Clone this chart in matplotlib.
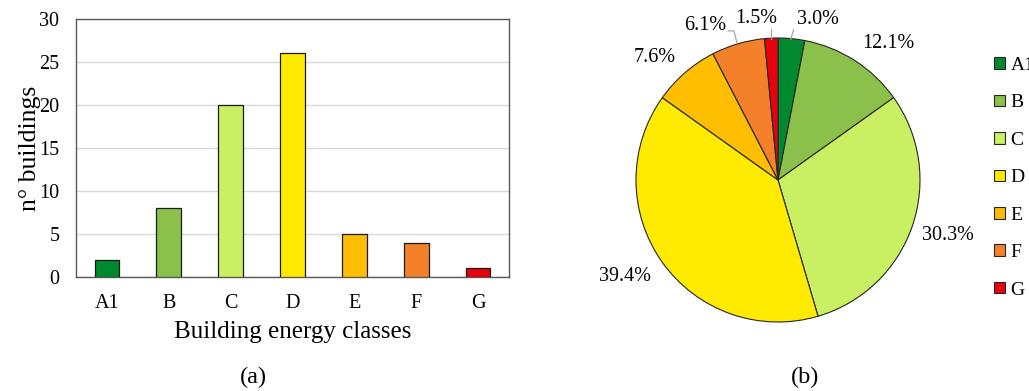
import matplotlib
matplotlib.use("Agg")
import matplotlib.pyplot as plt
from matplotlib.patches import Patch
import numpy as np

plt.rcParams['font.family'] = ['Liberation Serif', 'DejaVu Serif']

# Energy class distribution of the building stock
classes = ["A1", "B", "C", "D", "E", "F", "G"]
n_buildings = [2, 8, 20, 26, 5, 4, 1]
class_colors = ["#00892f", "#8bc04b", "#c9ef62", "#ffea00", "#ffbe00", "#f4812a", "#e8000c"]
y_ticks = [0, 5, 10, 15, 20, 25, 30]

W, H = 1029, 391
fig = plt.figure(figsize=(W / 100, H / 100), dpi=100)

# ---- (a) bar chart ----
ax = fig.add_axes([76 / W, 1 - 277 / H, (509 - 76) / W, (277 - 19) / H])
x = np.arange(len(classes))
ax.bar(x, n_buildings, width=0.4, color=class_colors, edgecolor="#1a1a1a",
       linewidth=0.9, zorder=3)
ax.set_xlim(-0.5, len(classes) - 0.5)
ax.set_ylim(0, 30)
ax.set_yticks(y_ticks)
ax.set_xticks(x)
ax.set_xticklabels(classes)
ax.tick_params(axis="both", length=0, labelsize=14.5, pad=12)
ax.yaxis.grid(True, color="#d9d9d9", linewidth=1, zorder=0)
for s in ax.spines.values():
    s.set_color("#595959")
    s.set_linewidth(1.0)
ax.set_xlabel("Building energy classes", fontsize=18, labelpad=6)
ax.set_ylabel("n° buildings", fontsize=18.5, labelpad=-1)
fig.text(253 / W, 1 - 377 / H, "(a)", fontsize=17.5, ha="center", va="center")

# ---- (b) pie chart ----
R = 142
cx, cy = 778, 180
pax = fig.add_axes([(cx - R) / W, 1 - (cy + R) / H, 2 * R / W, 2 * R / H])
wedges, _ = pax.pie(n_buildings, colors=class_colors, startangle=90,
                    counterclock=False, radius=1.0,
                    wedgeprops=dict(edgecolor="#262626", linewidth=0.8))
pax.set_xlim(-1, 1)
pax.set_ylim(-1, 1)
pax.axis("off")

total = sum(n_buildings)
pct_labels = [f"{100 * v / total:.1f}%" for v in n_buildings]

# label anchors in pie units (radius = 1)
label_pos = [(0.28, 1.13), (0.78, 0.96), (1.20, -0.39), (-1.08, -0.68),
             (-0.87, 0.86), (-0.51, 1.09), (-0.15, 1.14)]
for txt, (lx, ly) in zip(pct_labels, label_pos):
    pax.text(lx, ly, txt, fontsize=14.5, ha="center", va="center", clip_on=False)

# leader lines for the narrow slices
leaders = [
    [(0.09, 0.99), (0.11, 1.06)],
    [(-0.05, 0.99), (-0.05, 1.06)],
    [(-0.29, 0.97), (-0.31, 1.05), (-0.35, 1.05)],
]
for pts in leaders:
    px, py = zip(*pts)
    pax.plot(px, py, color="#a6a6a6", linewidth=0.9, clip_on=False)

handles = [Patch(facecolor=c, edgecolor="#262626", linewidth=0.8) for c in class_colors]
fig.legend(handles, classes, loc="upper left",
           bbox_to_anchor=(994 / W, 1 - 57 / H), frameon=False, fontsize=14,
           handlelength=0.55, handleheight=0.55, handletextpad=0.3,
           labelspacing=1.05, borderpad=0, borderaxespad=0)

fig.text(805 / W, 1 - 377 / H, "(b)", fontsize=17.5, ha="center", va="center")

fig.savefig("out.png", dpi=100)
